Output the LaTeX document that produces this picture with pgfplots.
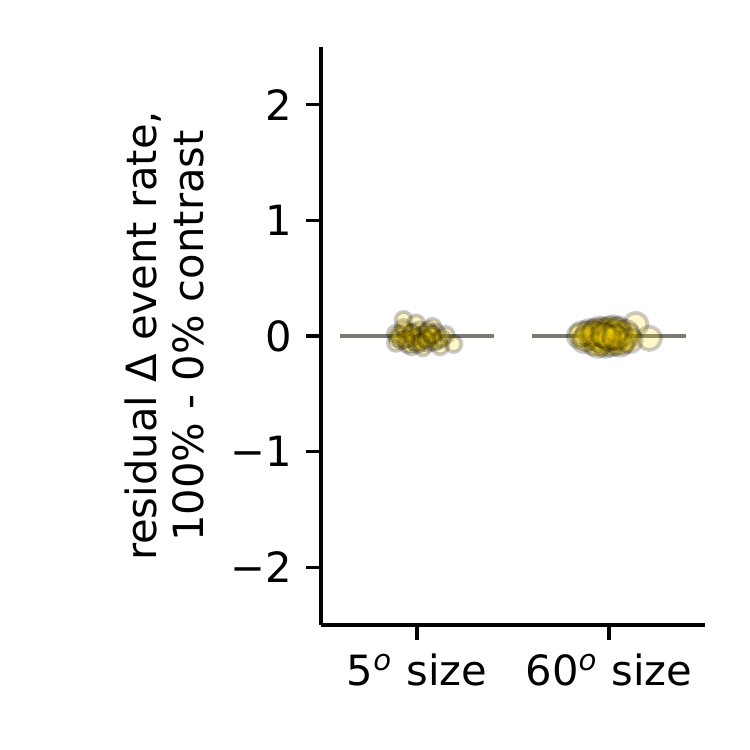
\documentclass[border=0pt]{standalone}
\usepackage{fontspec}
\setmainfont{DejaVu Sans}
\usepackage{pgfplots}
\pgfplotsset{compat=1.18}
\definecolor{gold}{RGB}{255,215,0}
\definecolor{lgray}{RGB}{122,122,114}
\begin{document}
\fontsize{10}{11.3}\selectfont
\begin{tikzpicture}
\path[use as bounding box] (0,0) rectangle (180pt,180pt);
\begin{axis}[
  at={(77.04pt,30.0pt)}, anchor=south west,
  scale only axis, width=92.16pt, height=138.72pt,
  xmin=-0.5, xmax=1.5, ymin=-2.5, ymax=2.5,
  axis lines=left, axis line style={-, line width=0.8pt, black},
  tick style={black, line width=0.8pt}, major tick length=3.5pt, tick align=outside,
  xtick={0,1}, xticklabels={5\textsuperscript{\itshape o} size, 60\textsuperscript{\itshape o} size},
  ytick={-2,-1,0,1,2}, yticklabels={−2,−1,0,1,2},
  ticklabel style={font=\fontsize{10}{12}\selectfont},
  ylabel={residual Δ event rate,\\100\% - 0\% contrast},
  every axis y label/.style={at={(axis description cs:-0.302,0.5)}, anchor=south, rotate=90, align=center, inner sep=0pt, font=\fontsize{10}{11.3}\selectfont},
  clip=false,
]
\addplot[only marks, mark=*, mark size=1.9pt, mark options={fill=gold, fill opacity=0.2, draw=black, draw opacity=0.22, line width=0.9pt}]
coordinates {
(-0.07,0.14) (-0.005,0.11) (0.08,0.08) (0.15,0.01) (0.19,-0.07)
(-0.11,0.02) (-0.08,-0.04) (-0.03,-0.09) (0.02,-0.03) (0.06,-0.06)
(0.11,-0.04) (-0.06,0.04) (0.05,0.03) (-0.11,-0.06) (0.10,0.03)
(0.12,-0.09) (0.00,0.00) (-0.02,0.03) (0.03,-0.10) (0.08,-0.01)
(-0.09,0.01) (-0.04,-0.02) (0.01,0.05) (0.04,-0.02) (-0.01,-0.05)
(0.07,0.02) (-0.05,-0.07) (0.09,-0.05) (-0.10,-0.02) (0.03,0.01)
(-0.02,-0.01) (0.06,0.05) (-0.07,0.07) (0.13,-0.02) (0.00,-0.07)
(-0.03,0.02) (0.02,-0.06) (0.05,-0.03) (-0.06,-0.03) (0.08,0.01)
};
\addplot[only marks, mark=*, mark size=2.8pt, mark options={fill=gold, fill opacity=0.2, draw=black, draw opacity=0.2, line width=0.9pt}]
coordinates {
(1.14,0.10) (1.21,-0.02) (0.845,0.00) (0.90,0.04) (0.95,0.06)
(1.00,0.04) (1.05,0.06) (0.97,-0.04) (1.03,-0.06) (1.08,-0.03)
(0.92,-0.06) (0.87,-0.04) (1.10,0.00) (1.00,0.00) (0.94,0.01)
(1.02,0.07) (0.98,-0.08) (1.06,0.02) (0.89,0.02) (1.04,-0.02)
(0.96,0.03) (1.01,-0.03) (0.93,-0.02) (0.99,0.02) (1.07,-0.05)
(0.91,0.00) (1.03,0.03) (0.97,0.05) (1.01,-0.07) (0.95,-0.03)
(1.05,-0.01) (0.88,-0.02) (0.99,-0.01) (1.09,0.03) (0.93,0.04)
(1.02,0.01) (0.96,-0.06) (1.00,0.06) (0.94,-0.08) (1.06,-0.07)
(0.86,0.02) (1.11,-0.04) (0.98,0.00) (1.04,0.05) (0.92,0.02)
(1.00,-0.02) (0.97,0.01) (1.03,-0.01)
};
\addplot[lgray, line width=0.9pt] coordinates {(-0.4,0) (0.4,0)};
\addplot[lgray, line width=0.9pt] coordinates {(0.6,0) (1.4,0)};
\end{axis}
\end{tikzpicture}
\end{document}
